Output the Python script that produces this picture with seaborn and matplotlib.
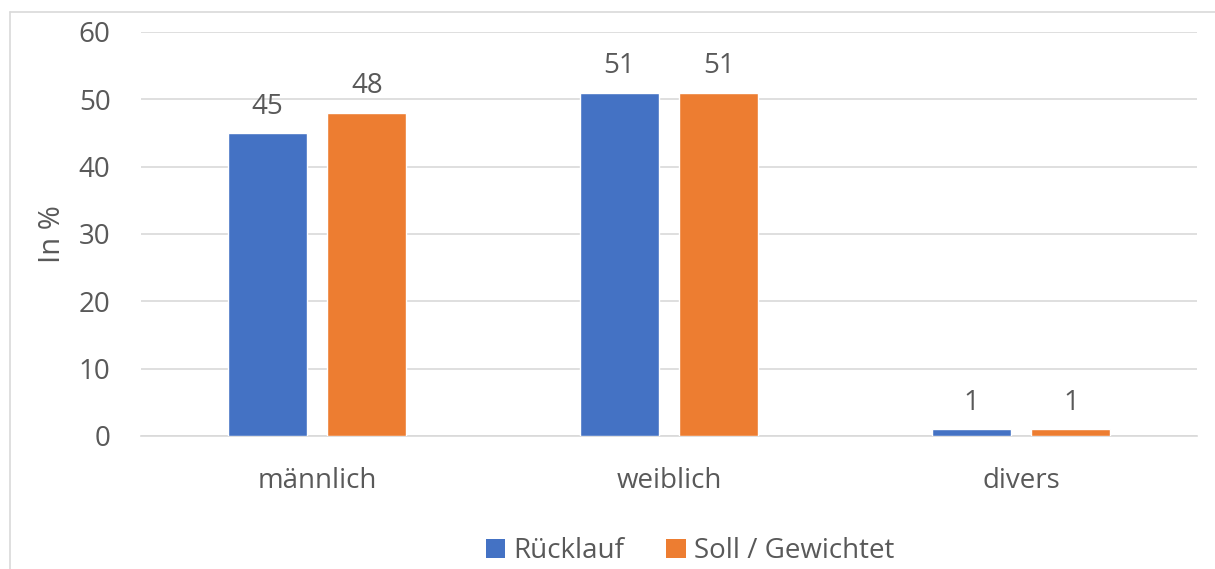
import matplotlib
matplotlib.use("Agg")
import matplotlib.pyplot as plt
import seaborn as sns
import pandas as pd
from matplotlib.lines import Line2D
from matplotlib.patches import Patch

categories = ["männlich", "weiblich", "divers"]
series_names = ["Rücklauf", "Soll / Gewichtet"]
ruecklauf = [45, 51, 1]
soll = [48, 51, 1]
yticks = [0, 10, 20, 30, 40, 50, 60]

colors = ["#4472C4", "#ED7D31"]
text_color = "#595959"
grid_color = "#D9D9D9"

df = pd.DataFrame({
    "Kategorie": categories * 2,
    "Serie": [series_names[0]] * 3 + [series_names[1]] * 3,
    "Wert": ruecklauf + soll,
})

sns.set_theme(style="white")
plt.rcParams["font.family"] = ["Open Sans", "DejaVu Sans"]

fs = 20

fig = plt.figure(figsize=(12.15, 5.69), dpi=100)
ax = fig.add_axes([141 / 1215, 1 - 436 / 569, (1197 - 141) / 1215, (436 - 32) / 569])

sns.barplot(data=df, x="Kategorie", y="Wert", hue="Serie", order=categories,
            hue_order=series_names, palette=colors, width=0.568, gap=0.21,
            saturation=1, ax=ax, legend=False, zorder=3)

ax.set_ylim(0, 60)
ax.set_xlim(-0.5, 2.5)
ax.set_yticks(yticks)
ax.set_yticklabels([str(t) for t in yticks])
ax.yaxis.grid(True, color=grid_color, linewidth=1.2, zorder=0)
ax.set_axisbelow(True)
for s in ["top", "right", "left"]:
    ax.spines[s].set_visible(False)
ax.spines["bottom"].set_color(grid_color)
ax.spines["bottom"].set_linewidth(1.2)
ax.tick_params(axis="both", length=0, labelsize=fs, colors=text_color)
ax.tick_params(axis="x", pad=22)
ax.tick_params(axis="y", pad=22)
ax.set_xlabel("")
ax.set_ylabel("In %", fontsize=fs + 1, color=text_color, labelpad=8)

for cont in ax.containers:
    ax.bar_label(cont, fmt="%g", padding=9, fontsize=fs, color=text_color)

handles = [Patch(facecolor=c, edgecolor="none") for c in colors]
fig.legend(handles, series_names, loc="center", bbox_to_anchor=(690 / 1215, 1 - 551 / 569),
           ncol=2, frameon=False, fontsize=fs, handlelength=0.7, handleheight=0.7,
           handletextpad=0.3, columnspacing=1.5, labelcolor=text_color)

# chart frame (left and top border)
fig.add_artist(Line2D([10 / 1215, 10 / 1215], [0, 1 - 12 / 569], color=grid_color, linewidth=1.2, transform=fig.transFigure))
fig.add_artist(Line2D([10 / 1215, 1], [1 - 12 / 569, 1 - 12 / 569], color=grid_color, linewidth=1.2, transform=fig.transFigure))

fig.savefig("out.png", dpi=100, facecolor="white")
